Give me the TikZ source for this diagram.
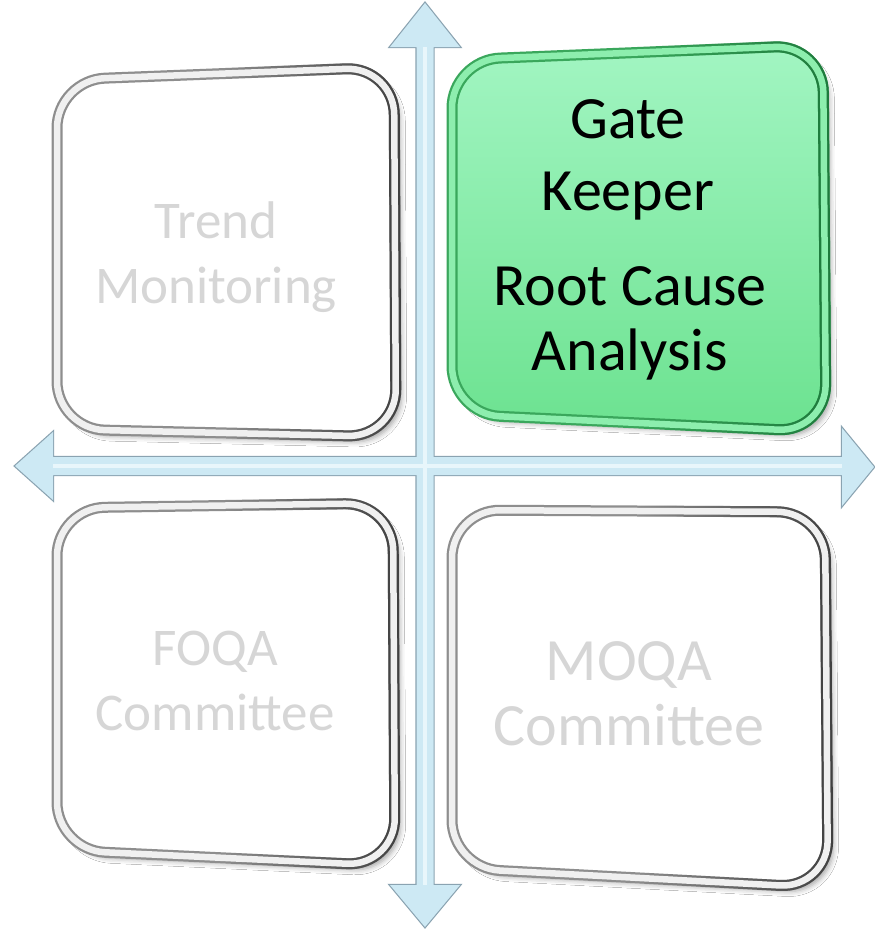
\documentclass[tikz,border=0pt]{standalone}
\usepackage{fontspec}
\setmainfont{Carlito}
\usetikzlibrary{shadows.blur,fadings,calc}

\definecolor{rimgrey}{HTML}{8E8E8E}
\definecolor{rimdark}{HTML}{404040}
\definecolor{bandgrey}{HTML}{F0F0F0}
\definecolor{fadedtext}{HTML}{D6D6D6}
\definecolor{rimgreen}{HTML}{3AA75C}
\definecolor{rimgreendark}{HTML}{1E7A3C}
\definecolor{bandgreen}{HTML}{8DEEAE}
\definecolor{greentop}{HTML}{A2F5C2}
\definecolor{greenbot}{HTML}{6CE290}
\definecolor{axisfill}{HTML}{CDE9F4}
\definecolor{axisedge}{HTML}{8AA3B1}
\definecolor{axislight}{HTML}{E8F6FB}

\tikzfading[name=rimfade, left color=transparent!100,
  middle color=transparent!85, right color=transparent!0]

% closed outline through the four corner coordinates <p>a .. <p>d
\newcommand\cardpath[1]{(#1a) -- (#1b) -- (#1c) -- (#1d) -- cycle}
% right-hand half of the same outline
\newcommand\cardright[1]{($(#1a)!0.5!(#1b)$) -- (#1b) -- (#1c) -- ($(#1d)!0.5!(#1c)$)}

\begin{document}
\begin{tikzpicture}[x=1pt,y=-1pt,
  cardbase/.style={rounded corners=48pt},
  cardshadow/.style={blur shadow={shadow xshift=6pt, shadow yshift=-6pt,
    shadow blur radius=5pt, shadow opacity=35}},
  greyface/.style={cardbase, fill=white, cardshadow},
  greyrim/.style={cardbase, draw=rimgrey, line width=11pt},
  greyband/.style={cardbase, draw=bandgrey, line width=6.5pt},
  greyshade/.style={cardbase, draw=rimdark, line width=11pt, path fading=rimfade},
  greenface/.style={cardbase, top color=greentop, bottom color=greenbot, cardshadow},
  greenrim/.style={cardbase, draw=rimgreen, line width=11pt},
  greenband/.style={cardbase, draw=bandgreen, line width=6.5pt},
  greenshade/.style={cardbase, draw=rimgreendark, line width=11pt, path fading=rimfade},
  faded/.style={text=fadedtext, anchor=base, inner sep=0pt},
  lit/.style={text=black, anchor=base, inner sep=0pt},
  smallsize/.style={font=\fontsize{53}{60}\selectfont},
  bigsize/.style={font=\fontsize{60}{68}\selectfont},
  axisout/.style={draw=axisedge, line width=2.4pt, line join=miter},
  axisin/.style={fill=axisfill},
  axisglow/.style={draw=axislight, line width=4pt}
]
\useasboundingbox[fill=white] (0,0) rectangle (875,929);

% ---------- card corners ----------
\coordinate (tma) at (57,80);   \coordinate (tmb) at (394,67);
\coordinate (tmc) at (396,437); \coordinate (tmd) at (57,429);
\coordinate (gka) at (452,60);  \coordinate (gkb) at (823,45);
\coordinate (gkc) at (826,432); \coordinate (gkd) at (452,414);
\coordinate (foa) at (57,508);  \coordinate (fob) at (393,503);
\coordinate (foc) at (395,866); \coordinate (fod) at (57,850);
\coordinate (moa) at (452,510); \coordinate (mob) at (825,512);
\coordinate (moc) at (828,888); \coordinate (mod) at (452,868);

% ---------- cards ----------
\foreach \c in {tm,fo,mo}{
  \path[greyface] \cardpath{\c};
  \draw[greyrim]  \cardpath{\c};
  \draw[greyshade] \cardright{\c};
  \draw[greyband] \cardpath{\c};
}
\path[greenface] \cardpath{gk};
\draw[greenrim]  \cardpath{gk};
\draw[greenshade] \cardright{gk};
\draw[greenband] \cardpath{gk};

% ---------- axes ----------
\coordinate (vtop) at (425,3);
\coordinate (vbot) at (425,927);
\coordinate (hleft) at (15,466);
\coordinate (hright) at (874,467);
\def\vaxis{(vtop) -- (460,47) -- (433.5,47) -- (433.5,885) -- (460,885)
  -- (vbot) -- (390,885) -- (416.5,885) -- (416.5,47) -- (390,47) -- cycle}
\def\haxis{(hleft) -- (53,432) -- (53,457) -- (842,457) -- (842,428)
  -- (hright) -- (842,506) -- (842,475) -- (53,475) -- (53,500) -- cycle}
\draw[axisout] \haxis;
\draw[axisout] \vaxis;
\fill[axisin] \haxis;
\fill[axisin] \vaxis;
\draw[axisglow] (53,466) -- (842,466);
\draw[axisglow] (425,47) -- (425,885);

% ---------- labels ----------
\node[faded, smallsize] (tm1) at (216,238) {Trend};
\node[faded, smallsize] (tm2) at (216,303) {Monitoring};
\node[faded, smallsize] (fo1) at (215,665) {FOQA};
\node[faded, smallsize] (fo2) at (215,730) {Committee};
\node[faded, bigsize]   (mo1) at (629,680) {MOQA};
\node[faded, bigsize]   (mo2) at (629,745) {Committee};
\node[lit, bigsize] (gk1) at (628,138) {Gate};
\node[lit, bigsize] (gk2) at (628,210) {Keeper};
\node[lit, bigsize] (gk3) at (630,305) {Root Cause};
\node[lit, bigsize] (gk4) at (630,370) {Analysis};
\end{tikzpicture}
\end{document}
